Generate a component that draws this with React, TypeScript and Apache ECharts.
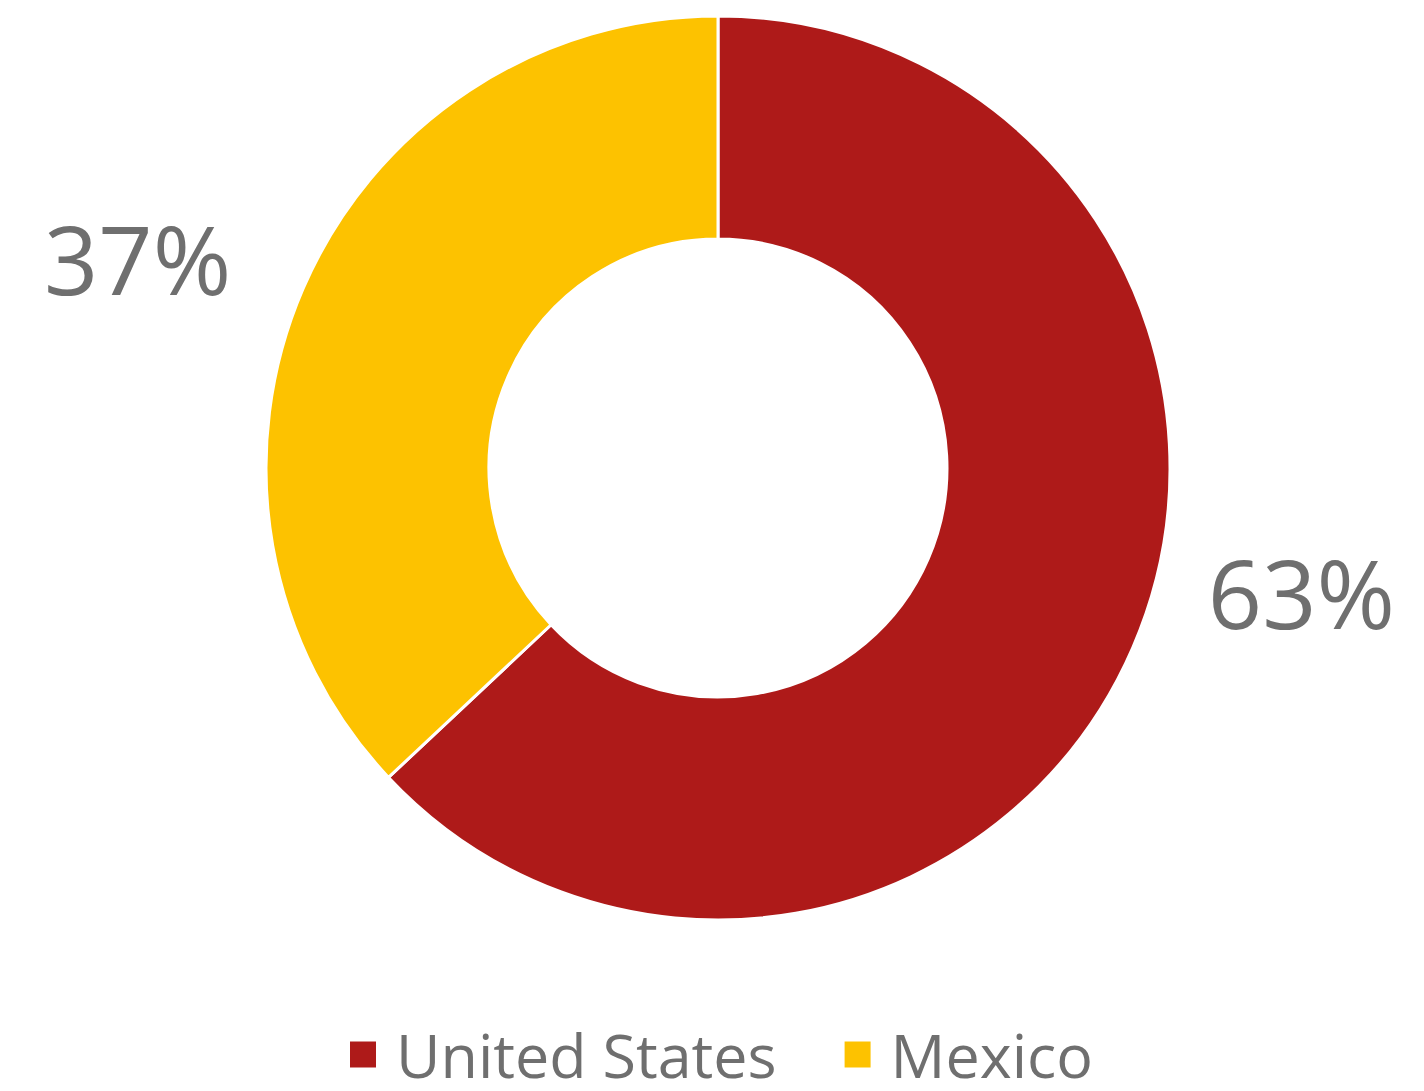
import React, { useEffect, useRef } from "react";
import * as echarts from "echarts";

const categories = ["United States", "Mexico"];
const values = [63, 37];
const colors = ["#AE1A19", "#FDC200"];

export default function App() {
  const ref = useRef<HTMLDivElement>(null);
  useEffect(() => {
    if (!ref.current) return;
    const chart = echarts.init(ref.current, undefined, { renderer: "svg" });
    chart.setOption({
      animation: false,
      backgroundColor: "#ffffff",
      color: colors,
      legend: {
        top: 1024,
        left: 348,
        padding: 0,
        itemWidth: 28,
        itemHeight: 28,
        itemGap: 66,
        icon: "rect",
        textStyle: {
          fontSize: 61,
          lineHeight: 61,
          color: "#6f6f6f",
          fontFamily: "Open Sans",
          padding: [0, 0, 0, 14],
        },
        data: categories,
      },
      series: [
        {
          type: "pie",
          center: [718, 468],
          radius: [229, 452],
          startAngle: 90,
          clockwise: true,
          itemStyle: { borderColor: "#ffffff", borderWidth: 3 },
          label: {
            show: true,
            position: "outside",
            formatter: "{c}%",
            fontSize: 95,
            color: "#6f6f6f",
            fontFamily: "Open Sans",
          },
          labelLine: { show: false, length: 0, length2: 70 },
          labelLayout: (p: any) =>
            p.dataIndex === 0 ? { dy: -56 } : { dx: 3, dy: -30 },
          data: categories.map((name, i) => ({ name, value: values[i] })),
        },
      ],
    });
    return () => chart.dispose();
  }, []);
  return (
    <div
      ref={ref}
      style={{ position: "absolute", left: 0, top: 0, width: 1424, height: 1091 }}
    />
  );
}
